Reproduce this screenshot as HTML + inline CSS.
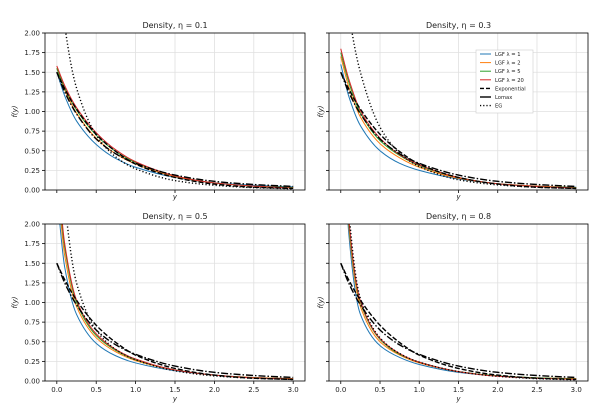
<!DOCTYPE html>
<html><head><meta charset="utf-8"><style>
body{margin:0;background:#fff}
svg{font-family:"DejaVu Sans","Liberation Sans",sans-serif}
</style></head><body>
<svg id="chart" width="612" height="406" viewBox="0 0 612 406"></svg>
<script>
const xs=[0,0.1,0.25,0.5,0.75,1,1.5,2,2.5,3];
const yTicks=[0,0.25,0.5,0.75,1,1.25,1.5,1.75,2];
const yTickLabels=["0.00","0.25","0.50","0.75","1.00","1.25","1.50","1.75","2.00"];
const xTicks=[0,0.5,1,1.5,2,2.5,3];
const xTickLabels=["0.0","0.5","1.0","1.5","2.0","2.5","3.0"];
const etas=["0.1","0.3","0.5","0.8"];
const expo=[1.5,1.29,1.03,0.71,0.49,0.33,0.16,0.075,0.035,0.02];
const lomax=[1.5,1.25,0.97,0.65,0.46,0.34,0.19,0.11,0.07,0.045];
const blue=[[1.5,1.2,0.88,0.58,0.40,0.29,0.16,0.09,0.06,0.04],[1.6,1.2,0.82,0.5,0.34,0.25,0.14,0.08,0.05,0.035],[2.4,1.45,0.85,0.48,0.32,0.23,0.13,0.075,0.045,0.03],[5,1.9,0.85,0.45,0.3,0.21,0.11,0.065,0.04,0.03]];
const orange=[[1.55,1.28,0.98,0.66,0.46,0.33,0.17,0.09,0.05,0.03],[1.7,1.32,0.93,0.59,0.41,0.29,0.15,0.08,0.05,0.03],[2.6,1.6,0.95,0.55,0.37,0.26,0.14,0.075,0.045,0.03],[5,2.0,0.95,0.5,0.33,0.23,0.12,0.065,0.04,0.03]];
const green=[[1.55,1.3,1.02,0.70,0.49,0.35,0.18,0.09,0.05,0.03],[1.75,1.38,0.98,0.63,0.44,0.31,0.16,0.08,0.045,0.03],[2.7,1.7,1.0,0.58,0.39,0.27,0.14,0.075,0.04,0.025],[5,2.05,1.0,0.53,0.34,0.24,0.12,0.065,0.04,0.025]];
const red=[[1.58,1.33,1.05,0.73,0.51,0.36,0.18,0.09,0.05,0.025],[1.8,1.42,1.01,0.66,0.45,0.32,0.16,0.08,0.045,0.025],[2.8,1.75,1.03,0.6,0.4,0.28,0.14,0.075,0.04,0.025],[5,2.1,1.02,0.54,0.35,0.24,0.12,0.06,0.035,0.02]];
const eg=[[3.2,2.1,1.3,0.7,0.42,0.27,0.12,0.06,0.03,0.015],[3.5,2.3,1.5,0.8,0.47,0.3,0.13,0.065,0.035,0.02],[4,2.3,1.25,0.65,0.4,0.27,0.13,0.065,0.035,0.02],[5,2.2,1.05,0.55,0.35,0.24,0.12,0.06,0.03,0.015]];

const NS="http://www.w3.org/2000/svg";
const svg=document.getElementById('chart');
function mk(t,a,p){const e=document.createElementNS(NS,t);for(const k in a)e.setAttribute(k,a[k]);(p||svg).appendChild(e);return e;}
const panels=[{l:45,r:305,t:33,b:190},{l:329,r:588,t:33,b:190},{l:45,r:305,t:224,b:381},{l:329,r:588,t:224,b:381}];
function mono(pts){
  const n=pts.length,d=[],m=[];
  for(let i=0;i<n-1;i++)d.push((pts[i+1][1]-pts[i][1])/(pts[i+1][0]-pts[i][0]));
  m[0]=d[0];m[n-1]=d[n-2];
  for(let i=1;i<n-1;i++)m[i]=d[i-1]*d[i]<=0?0:2/(1/d[i-1]+1/d[i]);
  let s=`M${pts[0][0]},${pts[0][1]}`;
  for(let i=0;i<n-1;i++){const h=pts[i+1][0]-pts[i][0];
    s+=` C${pts[i][0]+h/3},${pts[i][1]+m[i]*h/3} ${pts[i+1][0]-h/3},${pts[i+1][1]-m[i+1]*h/3} ${pts[i+1][0]},${pts[i+1][1]}`;}
  return s;
}
panels.forEach((P,pi)=>{
  const g=mk('g',{});
  
  
  const X=v=>P.l+(v+0.15)/3.3*(P.r-P.l);
  const Y=v=>P.b-v/2*(P.b-P.t);
  const cp=mk('clipPath',{id:'c'+pi},g);mk('rect',{x:P.l,y:P.t,width:P.r-P.l,height:P.b-P.t},cp);
  xTicks.forEach((v,i)=>{mk('line',{x1:X(v),x2:X(v),y1:P.t,y2:P.b,stroke:'#e0e0e0','stroke-width':0.8},g);
    mk('line',{x1:X(v),x2:X(v),y1:P.b,y2:P.b+3,stroke:'#000','stroke-width':0.8},g);
    if(pi>=2){const t=mk('text',{x:X(v),y:P.b+11,'font-size':7,'text-anchor':'middle',fill:'#222'},g);t.textContent=xTickLabels[i];
      }});
  yTicks.forEach((v,i)=>{mk('line',{x1:P.l,x2:P.r,y1:Y(v),y2:Y(v),stroke:'#e0e0e0','stroke-width':0.8},g);
    mk('line',{x1:P.l-3,x2:P.l,y1:Y(v),y2:Y(v),stroke:'#000','stroke-width':0.8},g);
    if(pi%2==0){const t=mk('text',{x:P.l-5,y:Y(v)+2.5,'font-size':7,'text-anchor':'end',fill:'#222'},g);t.textContent=yTickLabels[i];
      }});
  const cg=mk('g',{'clip-path':`url(#c${pi})`,fill:'none'},g);
  const series=[[blue[pi],'#1f77b4',1,null,'lgf-1'],[orange[pi],'#ff7f0e',1,null,'lgf-2'],[green[pi],'#2ca02c',1,null,'lgf-5'],[red[pi],'#d62728',1,null,'lgf-20'],
    [expo,'#000',1.4,'5,2','exponential'],[lomax,'#000',1.4,'7,2,1.5,2','lomax'],[eg[pi],'#000',1.4,'1.2,2.2','eg']];
  series.forEach(s=>{const p=mk('path',{d:mono(xs.map((x,i)=>[X(x),Y(s[0][i])])),stroke:s[1],'stroke-width':s[2]},cg);
    if(s[3])p.setAttribute('stroke-dasharray',s[3]);
    });
  mk('rect',{x:P.l,y:P.t,width:P.r-P.l,height:P.b-P.t,fill:'none',stroke:'#000','stroke-width':0.8},g);
  const tt=mk('text',{x:(P.l+P.r)/2,y:P.t-5,'font-size':8,'text-anchor':'middle',fill:'#222'},g);
  tt.textContent='Density, η = '+etas[pi];
  const yl=mk('text',{x:0,y:0,'font-size':7,'text-anchor':'middle',fill:'#222','font-style':'italic',transform:`translate(${pi%2==0?P.l-28:P.l-6},${(P.t+P.b)/2}) rotate(-90)`},g);
  yl.textContent='f(y)';
  const xl=mk('text',{x:(P.l+P.r)/2,y:pi>=2?P.b+20:P.b+9,'font-size':7,'text-anchor':'middle',fill:'#222','font-style':'italic'},g);
  xl.textContent='y';
});
// legend
const lg=mk('g',{});


mk('rect',{x:476,y:50,width:57,height:63,fill:'#fff',stroke:'#ccc','stroke-width':0.6},lg);
const le=[['LGF λ = 1','#1f77b4',1,null],['LGF λ = 2','#ff7f0e',1,null],['LGF λ = 5','#2ca02c',1,null],['LGF λ = 20','#d62728',1,null],['Exponential','#000',1.4,'4,2'],['Lomax','#000',1.4,null],['EG','#000',1.4,'1.2,2']];
le.forEach((e,i)=>{const y=54+i*8.6;
  const l=mk('line',{x1:480,x2:491,y1:y,y2:y,stroke:e[1],'stroke-width':e[2]},lg);if(e[3])l.setAttribute('stroke-dasharray',e[3]);
  const t=mk('text',{x:495,y:y+2,'font-size':5.2,fill:'#222'},lg);t.textContent=e[0];
  });
</script>
</body></html>
